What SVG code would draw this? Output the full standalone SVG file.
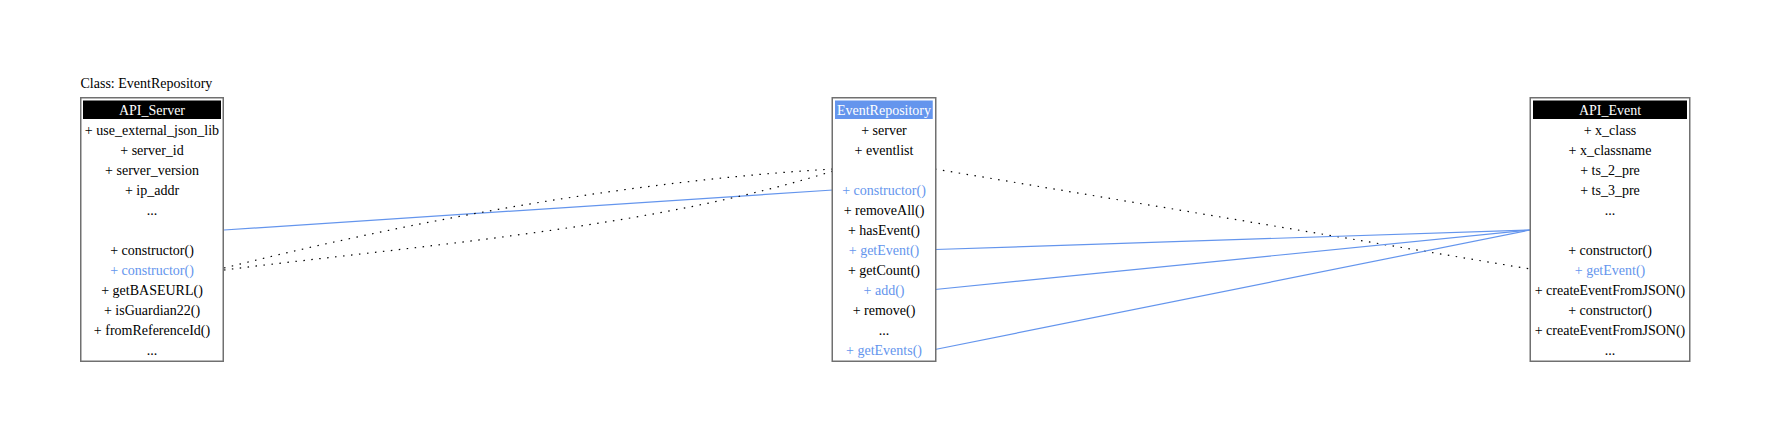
<svg xmlns="http://www.w3.org/2000/svg" width="1770" height="438" viewBox="0 0 1770 438">
<style>
text{font-family:"Liberation Serif","Times New Roman",serif;font-size:14px;fill:#000}
.c{text-anchor:middle}
.b{fill:#6495ed}
.w{fill:#fff}
.box{fill:#fff;stroke:#707070;stroke-width:1.5}
.blue{fill:none;stroke:#6495ed;stroke-width:1.2}
.dot{fill:none;stroke:#000;stroke-width:1.2;stroke-dasharray:1.5,6.5}
</style>
<rect width="1770" height="438" fill="#fff"/>
<text x="80.5" y="88">Class: EventRepository</text>
<g id="connectors">
<line class="blue" x1="224" y1="230" x2="833" y2="190"/>
<path class="dot" d="M224,268 C424,218 632,181 833,169"/>
<path class="dot" d="M224,270 C424,245 652,228 833,171"/>
<line class="dot" x1="935" y1="169" x2="1530" y2="269"/>
<line class="blue" x1="935" y1="249.5" x2="1530" y2="230"/>
<line class="blue" x1="935" y1="289.5" x2="1530" y2="230"/>
<line class="blue" x1="935" y1="349.5" x2="1530" y2="230"/>
</g>
<g id="API_Server">
<rect class="box" x="80.75" y="97.75" width="142.5" height="263.5"/>
<rect x="83" y="100.5" width="138" height="18.5" fill="#000"/>
<text class="c w" x="152" y="115">API_Server</text>
<text class="c" x="152" y="134.5">+ use_external_json_lib</text>
<text class="c" x="152" y="154.5">+ server_id</text>
<text class="c" x="152" y="174.5">+ server_version</text>
<text class="c" x="152" y="194.5">+ ip_addr</text>
<text class="c" x="152" y="214.5">...</text>
<text class="c" x="152" y="254.5">+ constructor()</text>
<text class="c b" x="152" y="274.5">+ constructor()</text>
<text class="c" x="152" y="294.5">+ getBASEURL()</text>
<text class="c" x="152" y="314.5">+ isGuardian22()</text>
<text class="c" x="152" y="334.5">+ fromReferenceId()</text>
<text class="c" x="152" y="354.5">...</text>
</g>
<g id="EventRepository">
<rect class="box" x="832.25" y="97.75" width="103.5" height="263.5"/>
<rect x="835" y="100.5" width="97.75" height="18.5" fill="#6495ed"/>
<text class="c w" x="884" y="115">EventRepository</text>
<text class="c" x="884" y="134.5">+ server</text>
<text class="c" x="884" y="154.5">+ eventlist</text>
<text class="c b" x="884" y="194.5">+ constructor()</text>
<text class="c" x="884" y="214.5">+ removeAll()</text>
<text class="c" x="884" y="234.5">+ hasEvent()</text>
<text class="c b" x="884" y="254.5">+ getEvent()</text>
<text class="c" x="884" y="274.5">+ getCount()</text>
<text class="c b" x="884" y="294.5">+ add()</text>
<text class="c" x="884" y="314.5">+ remove()</text>
<text class="c" x="884" y="334.5">...</text>
<text class="c b" x="884" y="354.5">+ getEvents()</text>
</g>
<g id="API_Event">
<rect class="box" x="1530.25" y="97.75" width="159.5" height="263.5"/>
<rect x="1533" y="100.5" width="154" height="18.5" fill="#000"/>
<text class="c w" x="1610" y="115">API_Event</text>
<text class="c" x="1610" y="134.5">+ x_class</text>
<text class="c" x="1610" y="154.5">+ x_classname</text>
<text class="c" x="1610" y="174.5">+ ts_2_pre</text>
<text class="c" x="1610" y="194.5">+ ts_3_pre</text>
<text class="c" x="1610" y="214.5">...</text>
<text class="c" x="1610" y="254.5">+ constructor()</text>
<text class="c b" x="1610" y="274.5">+ getEvent()</text>
<text class="c" x="1610" y="294.5">+ createEventFromJSON()</text>
<text class="c" x="1610" y="314.5">+ constructor()</text>
<text class="c" x="1610" y="334.5">+ createEventFromJSON()</text>
<text class="c" x="1610" y="354.5">...</text>
</g>
</svg>
